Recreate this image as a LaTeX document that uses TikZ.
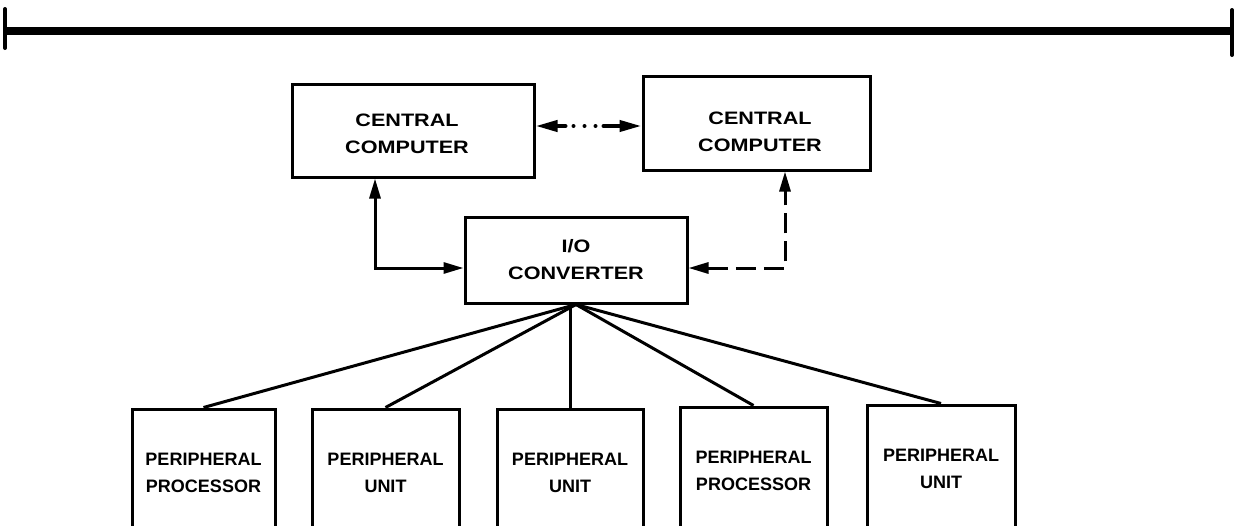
\documentclass[tikz,border=0pt]{standalone}
\usepackage{fontspec}
\setmainfont{Liberation Sans}
\usepackage{graphicx}
\usetikzlibrary{arrows.meta}
% horizontally widened lettering for the upper boxes
\newcommand{\widetxt}[1]{\scalebox{1.2}[1]{#1}}
\begin{document}
\begin{tikzpicture}[x=1pt,y=-1pt,
  box/.style={draw, line width=3pt, inner sep=0pt},
  lbl/.style={font=\bfseries\fontsize{18}{27}\selectfont, align=center, inner sep=0pt},
  conn/.style={line width=3pt},
  tipboth/.style={{Triangle[length=20pt,width=11pt]}-{Triangle[length=20pt,width=11pt]}},
  dotlink/.style={line width=4pt, line cap=round,
    {Triangle[length=22pt,width=11pt]}-{Triangle[length=22pt,width=11pt]},
    dash pattern=on 9pt off 8pt on 0pt off 11pt on 0pt off 11pt on 0pt off 8pt on 40pt},
  dashlink/.style={line width=3pt, dash pattern=on 20pt off 8pt,
    {Triangle[length=20pt,width=11pt]}-{Triangle[length=20pt,width=11pt]}}]
\useasboundingbox (0,0) rectangle (1236,525);
\clip (0,0) rectangle (1236,525);

% scale bar across the top
\draw[line width=8pt] (5,31) -- (1231,31);
\draw[line width=4pt, line cap=round] (5,9) -- (5,48);
\draw[line width=4pt, line cap=round] (1232,10) -- (1232,55);

% central computers
\node[box, minimum width=242pt, minimum height=93pt] (cc1) at (413,130.5) {};
\node[lbl] (cc1t) at (407,133.5) {\widetxt{CENTRAL}\\\widetxt{COMPUTER}};
\node[box, minimum width=227pt, minimum height=94pt] (cc2) at (756.5,123) {};
\node[lbl] (cc2t) at (760,131.5) {\widetxt{CENTRAL}\\\widetxt{COMPUTER}};

% I/O converter
\node[box, minimum width=222pt, minimum height=86pt] (io) at (576,260) {};
\node[lbl] (iot) at (576,260) {\widetxt{I/O}\\\widetxt{CONVERTER}};

% peripherals (they run off the lower edge)
\node[box, minimum width=143pt, minimum height=128pt] (p1) at (203.5,473) {};
\node[box, minimum width=147pt, minimum height=128pt] (p2) at (385.5,473) {};
\node[box, minimum width=146pt, minimum height=128pt] (p3) at (570,473) {};
\node[box, minimum width=147pt, minimum height=130pt] (p4) at (753.5,472) {};
\node[box, minimum width=148pt, minimum height=132pt] (p5) at (941,471) {};
\node[lbl] (p1t) at (203.5,473) {PERIPHERAL\\PROCESSOR};
\node[lbl] (p2t) at (385.5,473) {PERIPHERAL\\UNIT};
\node[lbl] (p3t) at (570,473) {PERIPHERAL\\UNIT};
\node[lbl] (p4t) at (753.5,471) {PERIPHERAL\\PROCESSOR};
\node[lbl] (p5t) at (941,469) {PERIPHERAL\\UNIT};

% link between the two central computers
\coordinate (dm) at (588,126);
\draw[dotlink] (dm -| cc1.east) -- (dm -| cc2.west);

% solid link: first computer <-> converter
\coordinate (lc) at (375,268);
\draw[conn, tipboth] (lc |- cc1.south) -- (lc) -- (lc -| io.west);

% dashed link: converter <-> second computer
\coordinate (rc) at (785,268);
\draw[dashlink] (rc -| io.east) -- (rc) -- (rc |- cc2.south);

% fan-out to the peripherals
\draw[conn] (io.south) -- (p1.north);
\draw[conn] (io.south) -- (p2.north);
\draw[conn] (p3.north |- io.south) -- (p3.north);
\draw[conn] (io.south) -- (p4.north);
\draw[conn] (io.south) -- (p5.north);
\end{tikzpicture}
\end{document}
